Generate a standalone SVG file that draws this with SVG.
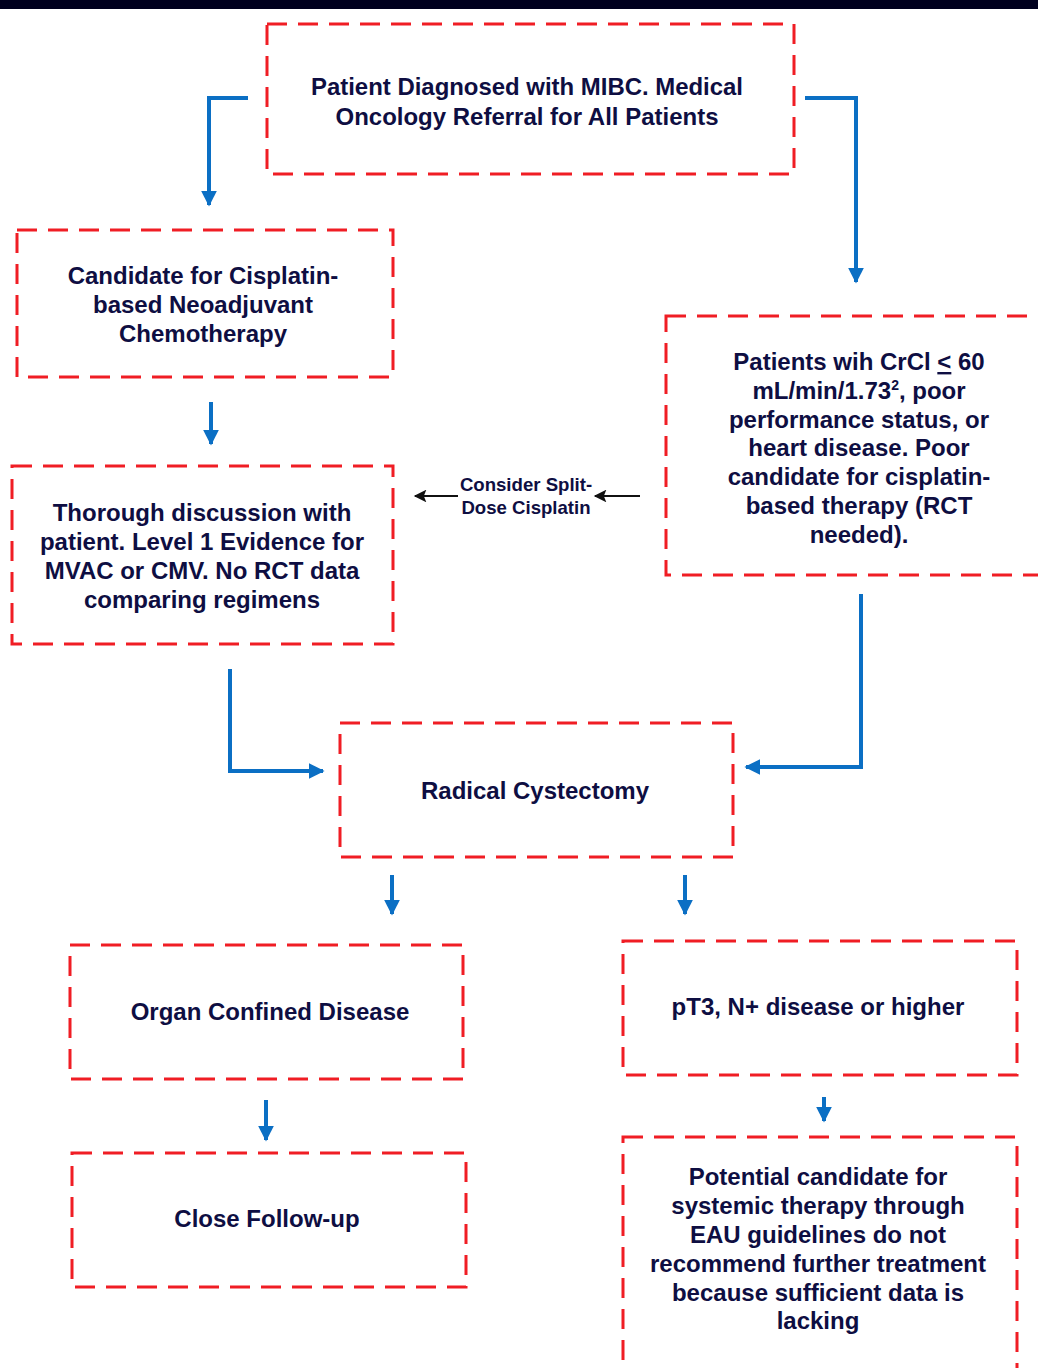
<svg xmlns="http://www.w3.org/2000/svg" width="1038" height="1368" viewBox="0 0 1038 1368">
<defs>
<style>
.box{fill:#fff;stroke:#f01d24;stroke-width:3;stroke-dasharray:20 11}
.t{font-family:"Liberation Sans",Arial,sans-serif;font-weight:bold;font-size:24px;fill:#0e0e42;text-anchor:middle}
.s{font-family:"Liberation Sans",Arial,sans-serif;font-weight:bold;font-size:18.6px;fill:#0e0e42;text-anchor:middle}
.c{fill:none;stroke:#0b6fc4;stroke-width:4}
.k{fill:none;stroke:#111;stroke-width:1.8}
</style>
<marker id="ab" viewBox="0 0 10 10" refX="9" refY="5" markerWidth="4" markerHeight="4" markerUnits="strokeWidth" orient="auto"><path d="M0,0 L10,5 L0,10 z" fill="#0b6fc4"/></marker>
<marker id="ak" viewBox="0 0 10 10" refX="9" refY="5" markerWidth="8" markerHeight="7" markerUnits="strokeWidth" orient="auto"><path d="M0,0 L10,5 L0,10 L2,5 z" fill="#111"/></marker>
</defs>
<rect x="0" y="0" width="1038" height="1368" fill="#fff"/>
<rect x="0" y="0" width="1038" height="9" fill="#00001e"/>

<g id="connectors">
<path class="c" d="M248,98 H209 V205" marker-end="url(#ab)"/>
<path class="c" d="M805,98 H856 V282" marker-end="url(#ab)"/>
<path class="c" d="M211,402 V444" marker-end="url(#ab)"/>
<path class="c" d="M230,669 V771 H323" marker-end="url(#ab)"/>
<path class="c" d="M861,594 V767 H746" marker-end="url(#ab)"/>
<path class="c" d="M392,875 V914" marker-end="url(#ab)"/>
<path class="c" d="M685,875 V914" marker-end="url(#ab)"/>
<path class="c" d="M266,1100 V1140" marker-end="url(#ab)"/>
<path class="c" d="M824,1097 V1121" marker-end="url(#ab)"/>
<path class="k" d="M640,496 H595" marker-end="url(#ak)"/>
<path class="k" d="M458,496 H415" marker-end="url(#ak)"/>
<g id="label-split">
<text class="s" x="526" y="491">Consider Split-</text>
<text class="s" x="526" y="514">Dose Cisplatin</text>
</g>
</g>

<g id="n-top">
<rect class="box" x="267" y="24" width="527" height="150"/>
<text class="t" x="527" y="95" textLength="432" lengthAdjust="spacingAndGlyphs">Patient Diagnosed with MIBC. Medical</text>
<text class="t" x="527" y="125" textLength="383" lengthAdjust="spacingAndGlyphs">Oncology Referral for All Patients</text>
</g>

<g id="n-candidate">
<rect class="box" x="17" y="230" width="376" height="147"/>
<text class="t" x="203" y="284">Candidate for Cisplatin-</text>
<text class="t" x="203" y="313">based Neoadjuvant</text>
<text class="t" x="203" y="342">Chemotherapy</text>
</g>

<g id="n-discussion">
<rect class="box" x="12" y="466" width="381" height="178"/>
<text class="t" x="202" y="521">Thorough discussion with</text>
<text class="t" x="202" y="550">patient. Level 1 Evidence for</text>
<text class="t" x="202" y="579">MVAC or CMV. No RCT data</text>
<text class="t" x="202" y="608">comparing regimens</text>
</g>

<g id="n-poor">
<rect class="box" x="666" y="316" width="400" height="259"/>
<text class="t" x="859" y="370">Patients wih CrCl <tspan text-decoration="underline">&lt;</tspan> 60</text>
<text class="t" x="859" y="399">mL/min/1.73<tspan font-size="14" dy="-9">2</tspan><tspan dy="9">, poor</tspan></text>
<text class="t" x="859" y="428">performance status, or</text>
<text class="t" x="859" y="456">heart disease. Poor</text>
<text class="t" x="859" y="485">candidate for cisplatin-</text>
<text class="t" x="859" y="514">based therapy (RCT</text>
<text class="t" x="859" y="543">needed).</text>
</g>

<g id="n-cystectomy">
<rect class="box" x="340" y="723" width="393" height="134"/>
<text class="t" x="535" y="799">Radical Cystectomy</text>
</g>

<g id="n-organ">
<rect class="box" x="70" y="945" width="393" height="134"/>
<text class="t" x="270" y="1020">Organ Confined Disease</text>
</g>

<g id="n-pt3">
<rect class="box" x="623" y="941" width="394" height="134"/>
<text class="t" x="818" y="1015">pT3, N+ disease or higher</text>
</g>

<g id="n-followup">
<rect class="box" x="72" y="1153" width="394" height="134"/>
<text class="t" x="267" y="1227">Close Follow-up</text>
</g>

<g id="n-potential">
<rect class="box" x="623" y="1137" width="394" height="260"/>
<text class="t" x="818" y="1185">Potential candidate for</text>
<text class="t" x="818" y="1214">systemic therapy through</text>
<text class="t" x="818" y="1243">EAU guidelines do not</text>
<text class="t" x="818" y="1272">recommend further treatment</text>
<text class="t" x="818" y="1301">because sufficient data is</text>
<text class="t" x="818" y="1329">lacking</text>
</g>
</svg>
